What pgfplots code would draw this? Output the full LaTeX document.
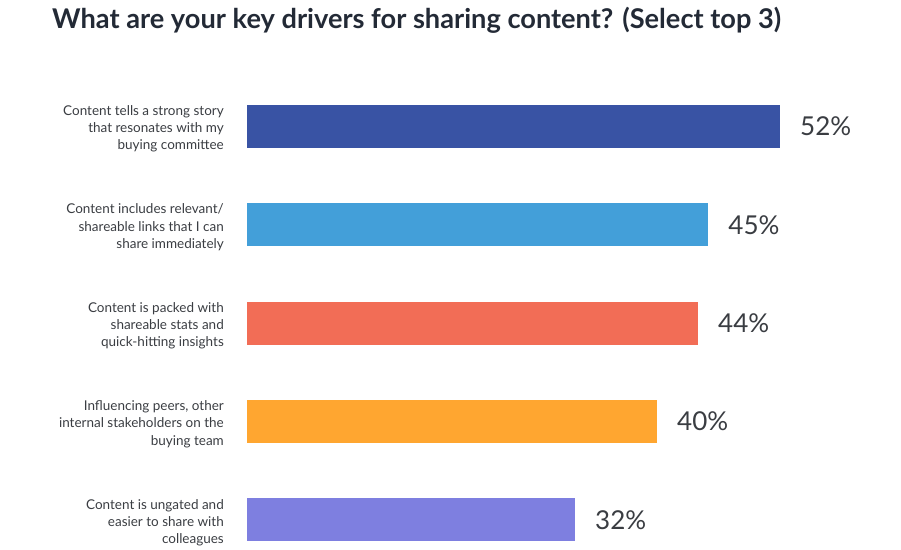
\documentclass[border=0pt]{standalone}
\usepackage{pgfplots}
\pgfplotsset{compat=1.18}
\usepackage{fontspec}
\setmainfont{Lato}
\definecolor{c1}{HTML}{3953A4}
\definecolor{c2}{HTML}{439FD9}
\definecolor{c3}{HTML}{F26D56}
\definecolor{c4}{HTML}{FFA630}
\definecolor{c5}{HTML}{7E7FE0}
\definecolor{txt}{HTML}{3A3D42}
\definecolor{ttl}{HTML}{232A36}
\begin{document}
\begin{tikzpicture}
\useasboundingbox (0,0) rectangle (901bp,550bp);
\node[anchor=base west, font=\fontsize{27.2bp}{30bp}\selectfont\bfseries, text=ttl, inner sep=0pt] at (52bp,521bp) {What are your key drivers for sharing content? (Select top 3)};
\begin{axis}[
  at={(247bp,0.5bp)}, anchor=south west,
  scale only axis, width=615bp, height=472.3bp,
  xbar, bar width=43bp, bar shift=0pt,
  xmin=0, xmax=60, ymin=-0.5, ymax=4.3,
  y dir=reverse,
  axis line style={draw=none},
  xtick=\empty,
  major tick length=0pt,
  ytick={0,1,2,3,4},
  yticklabels={{Content tells a strong story\\that resonates with my\\buying committee},
               {Content includes relevant/\\shareable links that I can\\share immediately},
               {Content is packed with\\shareable stats and\\quick-hitting insights},
               {Influencing peers, other\\internal stakeholders on the\\buying team},
               {Content is ungated and\\easier to share with\\colleagues}},
  yticklabel style={align=right, font=\fontsize{13.5bp}{17.2bp}\selectfont, text=txt, inner sep=0pt, xshift=-23bp, yshift=-2.5bp},
  /pgf/number format/assume math mode=true,
  nodes near coords={\pgfmathprintnumber{\pgfplotspointmeta}\%},
  nodes near coords style={anchor=west, font=\fontsize{26bp}{28bp}\selectfont, text=txt, inner sep=0pt, xshift=20bp},
  point meta=x,
]
\addplot[fill=c1, draw=none] coordinates {(52,0)};
\addplot[fill=c2, draw=none] coordinates {(45,1)};
\addplot[fill=c3, draw=none] coordinates {(44,2)};
\addplot[fill=c4, draw=none] coordinates {(40,3)};
\addplot[fill=c5, draw=none] coordinates {(32,4)};
\end{axis}
\end{tikzpicture}
\end{document}
